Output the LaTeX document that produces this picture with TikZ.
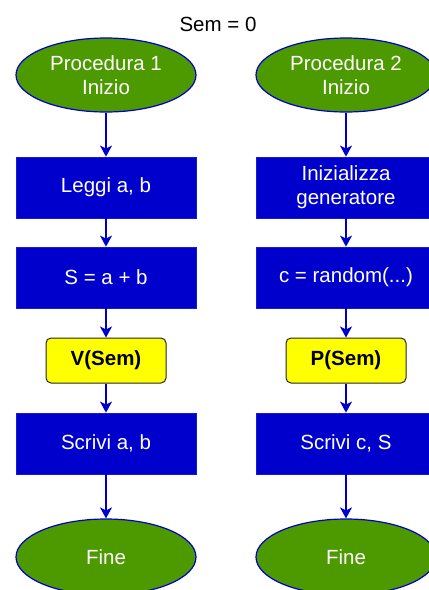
\documentclass[tikz,border=0pt]{standalone}
\usepackage{fontspec}
\setmainfont{Liberation Sans}
\usetikzlibrary{shapes.geometric,arrows.meta}
\definecolor{procblue}{HTML}{0000CC}
\definecolor{edgeblue}{HTML}{1A1AD0}
\definecolor{termgreen}{HTML}{4D9900}
\definecolor{semyellow}{HTML}{FFFF00}
\tikzset{
  x=1pt, y=-1pt,
  txt/.style={font=\fontsize{20.5}{24}\selectfont, align=center, inner sep=0pt},
  term/.style={txt, ellipse, draw=procblue, line width=1.2pt, fill=termgreen, text=white,
               minimum width=180pt, minimum height=74pt},
  proc/.style={txt, rectangle, draw=edgeblue, line width=0.8pt, fill=procblue, text=white,
               minimum width=180pt, minimum height=61pt},
  sem/.style={txt, rectangle, rounded corners=5pt, draw=black!85, line width=1pt, fill=semyellow,
              text=black, font=\fontsize{20.5}{24}\selectfont\bfseries,
              minimum width=120pt, minimum height=45pt},
  flow/.style={draw=procblue, line width=1.3pt, -{Stealth[length=11pt,width=12pt,inset=3pt]}}
}
\begin{document}
\begin{tikzpicture}
\useasboundingbox (0,0) rectangle (429,590);
\clip (0,0) rectangle (429,590);

\node[txt] (title) at (218,24) {Sem = 0};

% first procedure
\node[term] (s1) at (106,75) {Procedura 1\\Inizio};
\node[proc] (a1) at (106,187.5) {Leggi a, b};
\node[proc] (b1) at (106,277.5) {S = a + b};
\node[sem]  (c1) at (106,360.5) {V(Sem)};
\node[proc] (d1) at (106,443.5) {Scrivi a, b};
\node[term, minimum height=76pt] (e1) at (106,557) {Fine};

% second procedure
\node[term] (s2) at (346,75) {Procedura 2\\Inizio};
\node[proc] (a2) at (346,187.5) {Inizializza\\generatore};
\node[proc] (b2) at (346,277.5) {c = random(...)};
\node[sem]  (c2) at (346,360.5) {P(Sem)};
\node[proc] (d2) at (346,443.5) {Scrivi c, S};
\node[term, minimum height=76pt] (e2) at (346,557) {Fine};

\foreach \p in {1,2}{
  \draw[flow] (s\p) -- (a\p);
  \draw[flow] (a\p) -- (b\p);
  \draw[flow] (b\p) -- (c\p);
  \draw[flow] (c\p) -- (d\p);
  \draw[flow] (d\p) -- (e\p);
}
\end{tikzpicture}
\end{document}
